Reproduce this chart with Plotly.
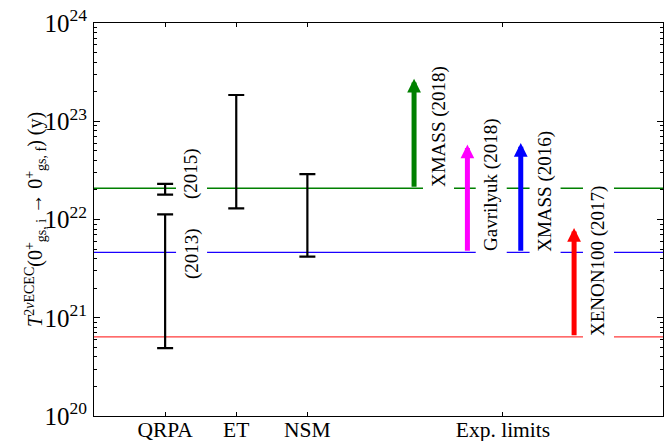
import numpy as np
import plotly.graph_objects as go

# ---- data ----
categories = ["QRPA", "ET", "NSM", "Exp. limits"]
category_pos = [1, 2, 3, 5.75]

bar_names = ["QRPA (2013)", "QRPA (2015)", "ET", "NSM"]
bar_x = [1, 1, 2, 3]
bar_lo = [4.9e20, 1.79e22, 1.30e22, 4.18e21]
bar_hi = [1.13e22, 2.30e22, 1.85e23, 2.90e22]
bar_year_labels = ["(2013)", "(2015)"]

limit_names = ["XMASS (2018)", "Gavrilyuk (2018)", "XMASS (2016)", "XENON100 (2017)"]
limit_x = [4.5, 5.25, 6.0, 6.75]
limit_vals = [2.08e22, 4.63e21, 4.63e21, 6.4e20]
arrow_tips = [2.7e23, 5.8e22, 6.0e22, 8.2e21]
limit_colors = ["#008000", "#ff00ff", "#0000ff", "#ff0000"]
line_colors = ["#008000", "#ff00ff", "#1a00ff", "#ff3a3a"]

y_title = ("<i>T</i><sup>2<i>ν</i>ECEC</sup>(0<sup>+</sup><sub>gs, i</sub> → "
           "0<sup>+</sup><sub>gs, f</sub>) (y)")

FONT = "Liberation Serif"
fig = go.Figure()

# horizontal limit lines across the whole axis (one per distinct value, last colour wins)
seen = {}
for v, c in zip(limit_vals, line_colors):
    seen[v] = c
for v, c in seen.items():
    fig.add_trace(go.Scatter(x=[0, 8], y=[v, v], mode="lines",
                             line=dict(color=c, width=1.3),
                             showlegend=False, hoverinfo="skip"))

# theory error bars
mid = np.sqrt(np.array(bar_lo) * np.array(bar_hi))
fig.add_trace(go.Scatter(
    x=bar_x, y=mid, mode="markers",
    marker=dict(size=1, color="rgba(0,0,0,0)"),
    error_y=dict(type="data", symmetric=False,
                 array=np.array(bar_hi) - mid,
                 arrayminus=mid - np.array(bar_lo),
                 color="black", thickness=2.2, width=8),
    showlegend=False, hoverinfo="skip"))

LABEL_FONT = dict(family=FONT, size=19, color="black")
annotations = []
# year labels next to QRPA bars
annotations.append(dict(x=bar_x[0] + 0.375, y=np.log10(mid[0]), xref="x", yref="y",
                        text=bar_year_labels[0], textangle=-90, showarrow=False,
                        yshift=28, bgcolor="white", borderpad=4, font=LABEL_FONT))
annotations.append(dict(x=bar_x[1] + 0.375, y=np.log10(mid[1]), xref="x", yref="y",
                        text=bar_year_labels[1], textangle=-90, showarrow=False,
                        yshift=16, bgcolor="white", borderpad=4, font=LABEL_FONT))

# experimental limit labels
for name, x, v in zip(limit_names, limit_x, limit_vals):
    annotations.append(dict(x=x + 0.34, y=np.log10(v), xref="x", yref="y",
                            text=name, textangle=-90, showarrow=False,
                            yanchor="bottom", yshift=-4, bgcolor="white", borderpad=4,
                            font=LABEL_FONT))

# arrows (lower limits)
for x, v, tip, c in zip(limit_x, limit_vals, arrow_tips, limit_colors):
    annotations.append(dict(x=x, y=np.log10(tip), ax=x, ay=np.log10(v),
                            xref="x", yref="y", axref="x", ayref="y",
                            text="", showarrow=True, arrowhead=2, arrowsize=0.55,
                            arrowwidth=5, arrowcolor=c, standoff=0, startstandoff=0))

# y-axis title
annotations.append(dict(x=-0.103, y=0.5, xref="paper", yref="paper",
                        text=y_title, textangle=-90, showarrow=False,
                        xanchor="center", yanchor="middle",
                        font=dict(family=FONT, size=20, color="black")))

# the page body adds an 8 px offset, so margins are compensated
fig.update_layout(
    width=672, height=441,
    margin=dict(l=86, r=17, t=15, b=33),
    paper_bgcolor="white", plot_bgcolor="white",
    font=dict(family=FONT, color="black"),
    annotations=annotations,
    xaxis=dict(range=[0, 8], tickvals=category_pos, ticktext=categories,
               ticks="inside", ticklen=4, tickcolor="black", ticklabelstandoff=-6,
               ticklabeloverflow="allow",
               showline=True, linecolor="black", linewidth=1.2, mirror="ticks",
               showgrid=False, zeroline=False, automargin=False,
               tickfont=dict(family=FONT, size=21.5)),
    yaxis=dict(type="log", range=[20, 24], dtick=1, exponentformat="power",
               ticks="inside", ticklen=6, tickcolor="black", ticklabelstandoff=2,
               ticklabeloverflow="allow",
               minor=dict(ticks="inside", ticklen=3, tickcolor="black", showgrid=False),
               showline=True, linecolor="black", linewidth=1.2, mirror="ticks",
               showgrid=False, zeroline=False, automargin=False,
               tickfont=dict(family=FONT, size=20)),
)

fig.write_html("out.html")
